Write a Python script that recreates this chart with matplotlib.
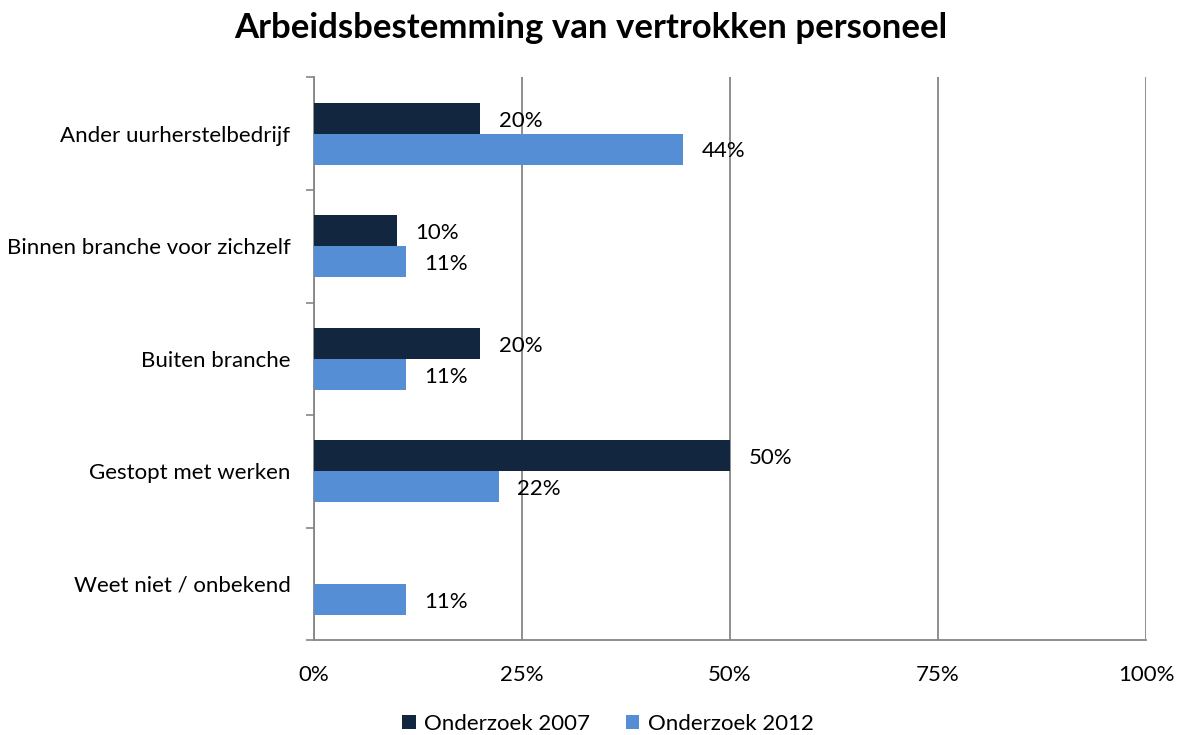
import matplotlib
matplotlib.use("Agg")
import matplotlib.pyplot as plt
import numpy as np

# data
categories = ["Ander uurherstelbedrijf", "Binnen branche voor zichzelf", "Buiten branche",
              "Gestopt met werken", "Weet niet / onbekend"]
values_2007 = [20, 10, 20, 50, None]
values_2012 = [44.4, 11.1, 11.1, 22.2, 11.1]
series_names = ["Onderzoek 2007", "Onderzoek 2012"]
xticks = [0, 25, 50, 75, 100]

color_2007 = "#13263f"
color_2012 = "#558ed5"
grid_gray = "#868686"

plt.rcParams["font.family"] = ["Lato", "DejaVu Sans"]

fig = plt.figure(figsize=(11.81, 7.35), dpi=100)
ax = fig.add_axes([0.2659, 0.129, 0.7045, 0.7656])

y = np.arange(len(categories))
h = 0.275

v07 = [v if v is not None else 0 for v in values_2007]
ax.barh(y - h / 2, v07, height=h, color=color_2007, label=series_names[0], zorder=3)
ax.barh(y + h / 2, values_2012, height=h, color=color_2012, label=series_names[1], zorder=3)

for i, v in enumerate(values_2007):
    if v is None:
        continue
    ax.text(v + 2.2, i - h / 2 + 0.02, f"{v:.0f}%", va="center", ha="left", fontsize=16, zorder=4)
for i, v in enumerate(values_2012):
    ax.text(v + 2.2, i + h / 2 + 0.02, f"{v:.0f}%", va="center", ha="left", fontsize=16, zorder=4)

ax.set_xlim(0, 100)
ax.set_ylim(len(categories) - 0.5, -0.5)
ax.set_xticks(xticks)
ax.set_xticklabels([f"{t}%" for t in xticks], fontsize=16)
ax.set_yticks(y)
ax.set_yticklabels(categories, fontsize=16)
ax.tick_params(axis="y", length=0, pad=17)
ax.tick_params(axis="x", length=0, pad=18)

# category boundary ticks on the left axis
ax.set_yticks(np.arange(-0.5, len(categories)), minor=True)
ax.tick_params(axis="y", which="minor", length=6, width=1.2, color=grid_gray, direction="out")
ax.set_xticks(xticks, minor=True)
ax.tick_params(axis="x", which="minor", length=6, width=1.2, color=grid_gray, direction="out")

ax.xaxis.grid(True, color=grid_gray, linewidth=1.3, zorder=0)
for side in ["top", "right"]:
    ax.spines[side].set_visible(False)
for side in ["left", "bottom"]:
    ax.spines[side].set_color(grid_gray)
    ax.spines[side].set_linewidth(1.3)

fig.suptitle("Arbeidsbestemming van vertrokken personeel", fontsize=25, fontweight="bold", y=0.984)

handles, labels = ax.get_legend_handles_labels()
fig.legend(handles, labels, loc="lower center", bbox_to_anchor=(0.515, -0.026), ncol=2, frameon=False,
           fontsize=16, handlelength=0.6, handleheight=0.6, handletextpad=0.4, columnspacing=1.6)

fig.savefig("out.png", dpi=100)
